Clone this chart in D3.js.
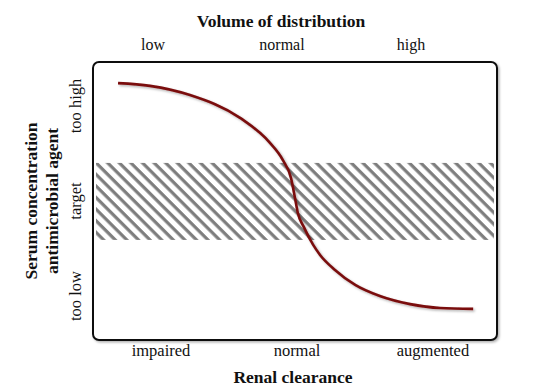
<!DOCTYPE html>
<html>
<head>
<meta charset="utf-8">
<script src="https://cdnjs.cloudflare.com/ajax/libs/d3/7.8.5/d3.min.js"></script>
<style>
  body { margin: 0; background: #fff; }
  text { font-family: "Liberation Serif", "Times New Roman", serif; fill: #111; }
</style>
</head>
<body>
<div class="chart"></div>
<script>
// curve: renal clearance (0-100) vs serum concentration (0-100)
const clearance = [6.2, 14.1, 24.0, 36.4, 43.8, 47.0, 49.0, 50.0, 50.7, 52.2, 54.5, 56.2, 59.9, 64.9, 71.0, 78.5, 85.9, 94.1];
const concentration = [92.4, 91.4, 88.1, 79.9, 70.9, 64.7, 58.3, 51.1, 45.7, 40.6, 34.2, 30.6, 25.2, 19.8, 15.8, 12.9, 11.5, 11.2];

// target concentration band
const targetRange = [36.0, 63.7];

// category labels
const volumeLabels = ["low", "normal", "high"];
const renalLabels = ["impaired", "normal", "augmented"];
const concLabels = ["too low", "target", "too high"];

const width = 553, height = 386;
const box = {left: 93, right: 497, top: 62, bottom: 340};

const svg = d3.select('.chart').append('svg')
    .attr('width', width)
    .attr('height', height);

const defs = svg.append('defs');

// hatch pattern for target band
defs.append('pattern')
    .attr('id', 'hatch')
    .attr('patternUnits', 'userSpaceOnUse')
    .attr('width', 8.2)
    .attr('height', 8.2)
    .attr('patternTransform', 'rotate(-45)')
    .append('line')
    .attr('x1', 2).attr('y1', -2)
    .attr('x2', 2).attr('y2', 11)
    .attr('stroke', '#7d7d7d')
    .attr('stroke-width', 3.2);

defs.append('filter')
    .attr('id', 'shadow')
    .attr('x', '-5%').attr('y', '-5%')
    .attr('width', '110%').attr('height', '110%')
    .append('feDropShadow')
    .attr('dx', 1.5).attr('dy', 1.5)
    .attr('stdDeviation', 1.2)
    .attr('flood-color', '#000')
    .attr('flood-opacity', 0.3);

// Scales
const xScale = d3.scaleLinear().domain([0, 100]).range([box.left, box.right]);
const yScale = d3.scaleLinear().domain([0, 100]).range([box.bottom, box.top]);

// frame
svg.append('rect')
    .attr('x', box.left)
    .attr('y', box.top)
    .attr('width', box.right - box.left)
    .attr('height', box.bottom - box.top)
    .attr('rx', 6)
    .attr('fill', '#fff')
    .attr('stroke', '#111')
    .attr('stroke-width', 2)
    .attr('filter', 'url(#shadow)');

// target band
svg.append('rect')
    .attr('x', xScale(0) + 3)
    .attr('y', yScale(targetRange[1]))
    .attr('width', xScale(100) - xScale(0) - 6)
    .attr('height', yScale(targetRange[0]) - yScale(targetRange[1]))
    .attr('fill', 'url(#hatch)');

// concentration curve
const line = d3.line()
    .x((d, i) => xScale(clearance[i]))
    .y(d => yScale(d))
    .curve(d3.curveMonotoneX);

svg.append('path')
    .datum(concentration)
    .attr('d', line)
    .attr('fill', 'none')
    .attr('stroke', '#7a0b0b')
    .attr('stroke-width', 2.6)
    .attr('stroke-linecap', 'butt')
    .attr('filter', 'url(#shadow)');

// top labels
const topScale = d3.scalePoint().domain(volumeLabels).range([153, 411]);
svg.selectAll('.vol')
    .data(volumeLabels)
    .enter()
    .append('text')
    .attr('class', 'vol')
    .attr('x', d => topScale(d))
    .attr('y', 50)
    .attr('text-anchor', 'middle')
    .style('font-size', '16px')
    .text(d => d);

svg.append('text')
    .attr('x', 281)
    .attr('y', 27)
    .attr('text-anchor', 'middle')
    .style('font-size', '17.5px')
    .style('font-weight', 'bold')
    .text('Volume of distribution');

// bottom labels
const bottomScale = d3.scalePoint().domain(renalLabels).range([161, 433]);
svg.selectAll('.renal')
    .data(renalLabels)
    .enter()
    .append('text')
    .attr('class', 'renal')
    .attr('x', d => bottomScale(d))
    .attr('y', 356)
    .attr('text-anchor', 'middle')
    .style('font-size', '16.5px')
    .text(d => d);

svg.append('text')
    .attr('x', 293)
    .attr('y', 383)
    .attr('text-anchor', 'middle')
    .style('font-size', '17.5px')
    .style('font-weight', 'bold')
    .text('Renal clearance');

// left labels (rotated)
const leftScale = d3.scalePoint().domain(concLabels).range([296, 106]);
svg.selectAll('.conc')
    .data(concLabels)
    .enter()
    .append('text')
    .attr('class', 'conc')
    .attr('transform', d => `translate(81,${leftScale(d)}) rotate(-90)`)
    .attr('text-anchor', 'middle')
    .style('font-size', '16.5px')
    .text(d => d);

svg.append('text')
    .attr('transform', 'translate(37,201) rotate(-90)')
    .attr('text-anchor', 'middle')
    .style('font-size', '17.5px')
    .style('font-weight', 'bold')
    .text('Serum concentration');

svg.append('text')
    .attr('transform', 'translate(58,201) rotate(-90)')
    .attr('text-anchor', 'middle')
    .style('font-size', '17.5px')
    .style('font-weight', 'bold')
    .text('antimicrobial agent');
</script>
</body>
</html>
